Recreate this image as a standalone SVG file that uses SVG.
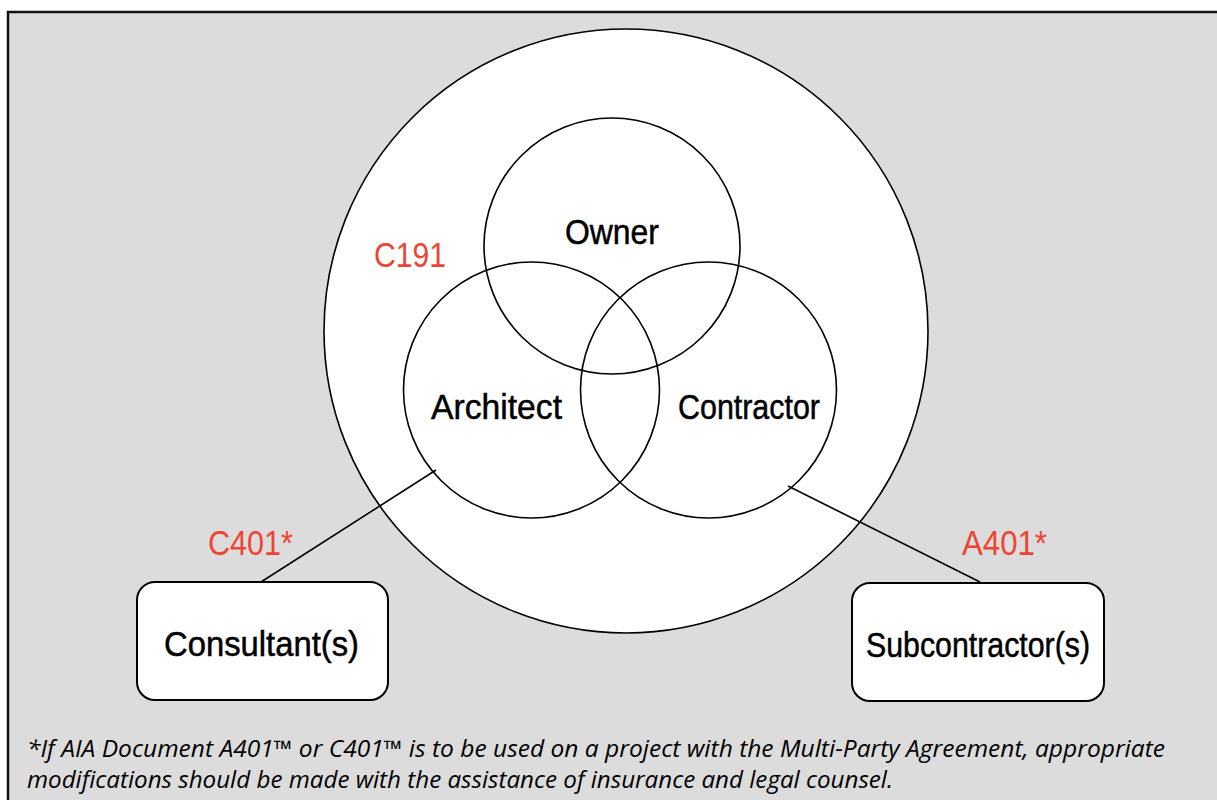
<svg xmlns="http://www.w3.org/2000/svg" width="1217" height="800" viewBox="0 0 1217 800">
<style>
.c{fill:none;stroke:#000;stroke-width:1.6}
.w{fill:#fff;stroke:#000;stroke-width:1.6}
.box{fill:#fff;stroke:#000;stroke-width:2}
.lbl{font-family:"Liberation Sans",Arial,sans-serif;font-size:35px;fill:#000;stroke:#000;stroke-width:0.5;text-anchor:middle}
.red{font-family:"Liberation Sans",Arial,sans-serif;font-size:35px;fill:#EE4433}
.note{font-family:"Open Sans","Liberation Sans",sans-serif;font-style:italic;font-size:23px;fill:#000}
.ln{stroke:#000;stroke-width:1.6;fill:none}
</style>
<rect x="0" y="0" width="1217" height="800" fill="#fff"/>
<rect x="8" y="12" width="1220" height="800" fill="#DCDCDC" stroke="#111" stroke-width="2.5"/>
<g id="c191">
<circle class="w" cx="626" cy="331" r="302"/>
<text class="red" x="374" y="267" textLength="72" lengthAdjust="spacingAndGlyphs">C191</text>
</g>
<g id="connectors">
<line class="ln" x1="436" y1="470" x2="261" y2="582"/>
<line class="ln" x1="788" y1="486" x2="980" y2="582"/>
</g>
<g id="owner">
<circle class="c" cx="612" cy="246" r="128"/>
<text class="lbl" x="612" y="244" textLength="94" lengthAdjust="spacingAndGlyphs">Owner</text>
</g>
<g id="architect">
<circle class="c" cx="531.5" cy="390" r="128"/>
<text class="lbl" x="496.5" y="419" textLength="131" lengthAdjust="spacingAndGlyphs">Architect</text>
</g>
<g id="contractor">
<circle class="c" cx="708.5" cy="390" r="128"/>
<text class="lbl" x="749" y="419" textLength="142" lengthAdjust="spacingAndGlyphs">Contractor</text>
</g>
<g id="consultant">
<rect class="box" x="137" y="582" width="251" height="118" rx="18"/>
<text class="lbl" x="261.5" y="656" textLength="195" lengthAdjust="spacingAndGlyphs">Consultant(s)</text>
<text class="red" x="208" y="555" textLength="85" lengthAdjust="spacingAndGlyphs">C401*</text>
</g>
<g id="subcontractor">
<rect class="box" x="852" y="583" width="252" height="118" rx="18"/>
<text class="lbl" x="978" y="657" textLength="224" lengthAdjust="spacingAndGlyphs">Subcontractor(s)</text>
<text class="red" x="962" y="555" textLength="85" lengthAdjust="spacingAndGlyphs">A401*</text>
</g>
<g id="footnote">
<text class="note" x="27" y="757" textLength="1138" lengthAdjust="spacingAndGlyphs">*If AIA Document A401™ or C401™ is to be used on a project with the Multi-Party Agreement, appropriate</text>
<text class="note" x="27" y="788" textLength="866" lengthAdjust="spacingAndGlyphs">modifications should be made with the assistance of insurance and legal counsel.</text>
</g>
</svg>
